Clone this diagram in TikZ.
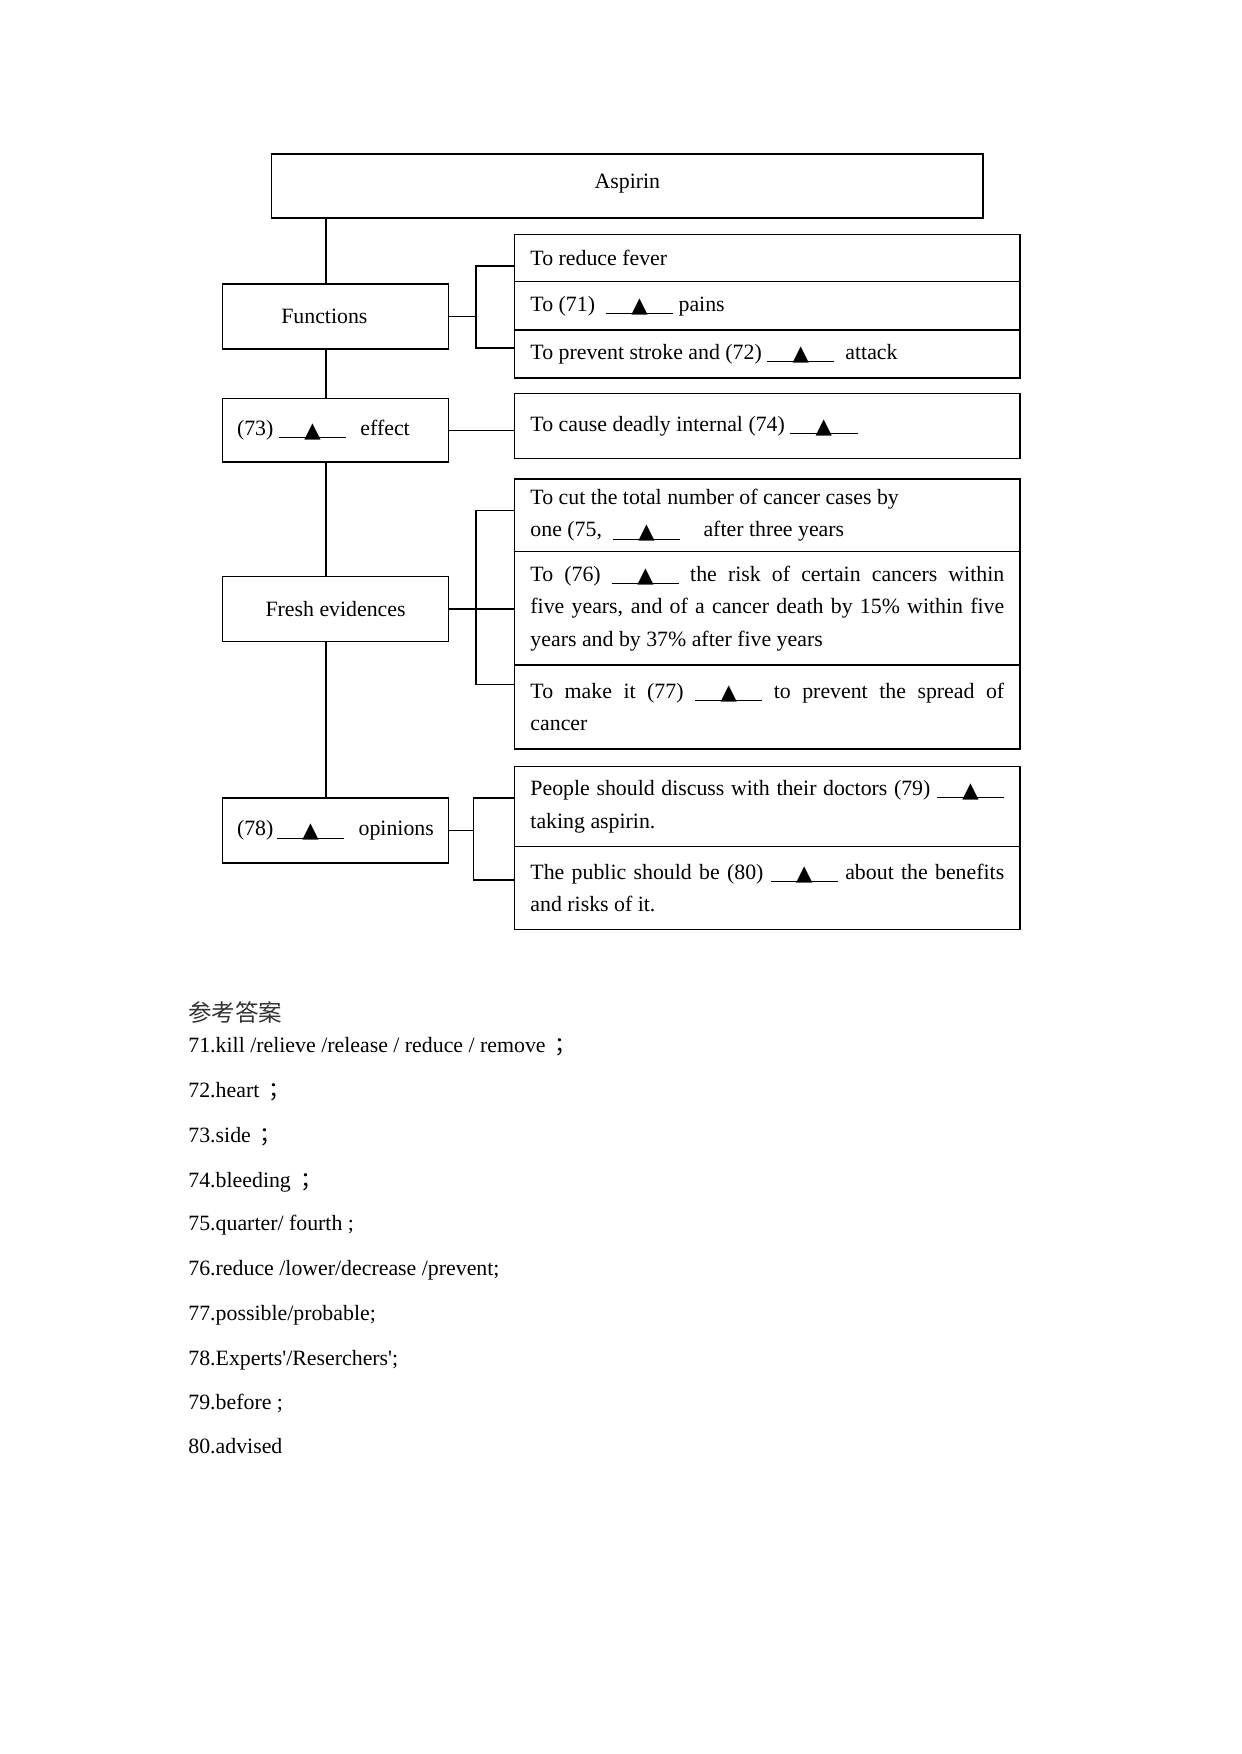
\documentclass[tikz,border=0pt]{standalone}
\usepackage{fontspec}
\setmainfont{Liberation Serif}
\newfontfamily\symfont{DejaVu Sans}
\newfontfamily\cjk{Noto Sans CJK SC}
\newcommand\dfont{\fontsize{19.5}{29}\selectfont}
\newcommand\afont{\fontsize{19.5}{24}\selectfont}
\newcommand\blnk{\makebox[60pt]{\rlap{\rule[-2.5pt]{60pt}{1pt}}\hfill\raisebox{-1.5pt}{\symfont\fontsize{19}{19}\selectfont ▲}\hfill}}
\newcommand\jline[1]{{\spaceskip=0pt\xspaceskip=0pt\makebox[423pt][s]{#1}}}
\begin{document}
\begin{tikzpicture}[x=1pt,y=-1pt,
  frame/.style={draw,line width=1.2pt,rectangle,anchor=north west,inner ysep=0pt,font=\dfont},
  rbox/.style={frame,minimum width=451pt,text width=423pt,inner xsep=14pt,align=justify},
  lbox/.style={frame,minimum width=202pt,minimum height=58pt},
  lboxl/.style={lbox,text width=176pt,inner xsep=13pt,align=justify},
  conn/.style={line width=1.2pt},
  ans/.style={anchor=base west,inner sep=0pt,font=\afont}]
\fill[white] (0,0) rectangle (1108,1566);
\useasboundingbox (0,0) rectangle (1108,1566);

% top
\node[frame,minimum width=635pt,minimum height=57pt,text depth=9pt] (asp) at (242,137) {Aspirin};

% left column
\node[lbox] (fun) at (198,253) {\hspace*{-20pt}Functions};
\node[lboxl,minimum height=57pt] (side) at (198,355) {(73) \blnk\hspace{8pt} effect};
\node[lbox] (fresh) at (198,514) {Fresh evidences};
\node[lboxl] (opin) at (198,712) {(78)\,\blnk\hspace{8pt} opinions};

% right column
\node[rbox,minimum height=42pt] (r1) at (459,209) {To reduce fever};
\node[rbox,minimum height=43pt] (r2) at (459,251) {To (71) \ \blnk\ pains};
\node[rbox,minimum height=43pt] (r3) at (459,294) {To prevent stroke and (72) \blnk\ \ attack};
\node[rbox,minimum height=58pt] (r4) at (459,351) {To cause deadly internal (74) \blnk};
\node[rbox,minimum height=65pt] (r5) at (459,427) {To cut the total number of cancer cases by\\ one (75, \ \blnk\hspace{16pt} after three years};
\node[rbox,minimum height=101pt] (r6) at (459,492) {\jline{To (76) \blnk\ the risk of certain cancers within}\\ \jline{five years, and of a cancer death by 15\% within five}\\ years and by 37\% after five years};
\node[rbox,minimum height=75pt] (r7) at (459,593) {\jline{To make it (77) \blnk\ to prevent the spread of}\\ cancer};
\node[rbox,minimum height=71pt] (r8) at (459,684) {\jline{People should discuss with their doctors (79) \blnk}\\ taking aspirin.};
\node[rbox,minimum height=74pt] (r9) at (459,755) {\jline{The public should be (80) \blnk\ about the benefits}\\ and risks of it.};

% spine
\coordinate (sp) at (291,0);
\draw[conn] (asp.south -| sp) -- (fun.north -| sp);
\draw[conn] (fun.south -| sp) -- (side.north -| sp);
\draw[conn] (side.south -| sp) -- (fresh.north -| sp);
\draw[conn] (fresh.south -| sp) -- (opin.north -| sp);

% brackets
\coordinate (b1) at (425,0);
\coordinate (b2) at (425,0);
\coordinate (b3) at (423,0);
\draw[conn] (fun.east) -- (fun.east -| b1);
\draw[conn] ([yshift=-7pt]r1.west) -| ([yshift=5.5pt]r3.west -| b1) -- ([yshift=5.5pt]r3.west);
\draw[conn] (side.east) -- (side.east -| r4.west);
\draw[conn] (fresh.east) -- (fresh.east -| r6.west);
\draw[conn] ([yshift=4.5pt]r5.west) -| ([yshift=20pt]r7.west -| b2) -- ([yshift=20pt]r7.west);
\draw[conn] (opin.east) -- (opin.east -| b3);
\draw[conn] ([yshift=7.5pt]r8.west) -| ([yshift=7pt]r9.west -| b3) -- ([yshift=7pt]r9.west);

% answers
\node[ans,font=\cjk\fontsize{21}{24}\selectfont,text=black!80] (h) at (168,912) {参考答案};
\node[ans] (a71) at (168,940) {71.kill /relieve /release / reduce / remove \,{\cjk ；}};
\node[ans] (a72) at (168,980) {72.heart \,{\cjk ；}};
\node[ans] (a73) at (168,1020) {73.side \,{\cjk ；}};
\node[ans] (a74) at (168,1060) {74.bleeding \,{\cjk ；}};
\node[ans] (a75) at (168,1099) {75.quarter/ fourth ;};
\node[ans] (a76) at (168,1139) {76.reduce /lower/decrease /prevent;};
\node[ans] (a77) at (168,1179) {77.possible/probable;};
\node[ans] (a78) at (168,1219) {78.Experts\textquotesingle/Reserchers\textquotesingle;};
\node[ans] (a79) at (168,1258) {79.before ;};
\node[ans] (a80) at (168,1298) {80.advised};
\end{tikzpicture}
\end{document}
